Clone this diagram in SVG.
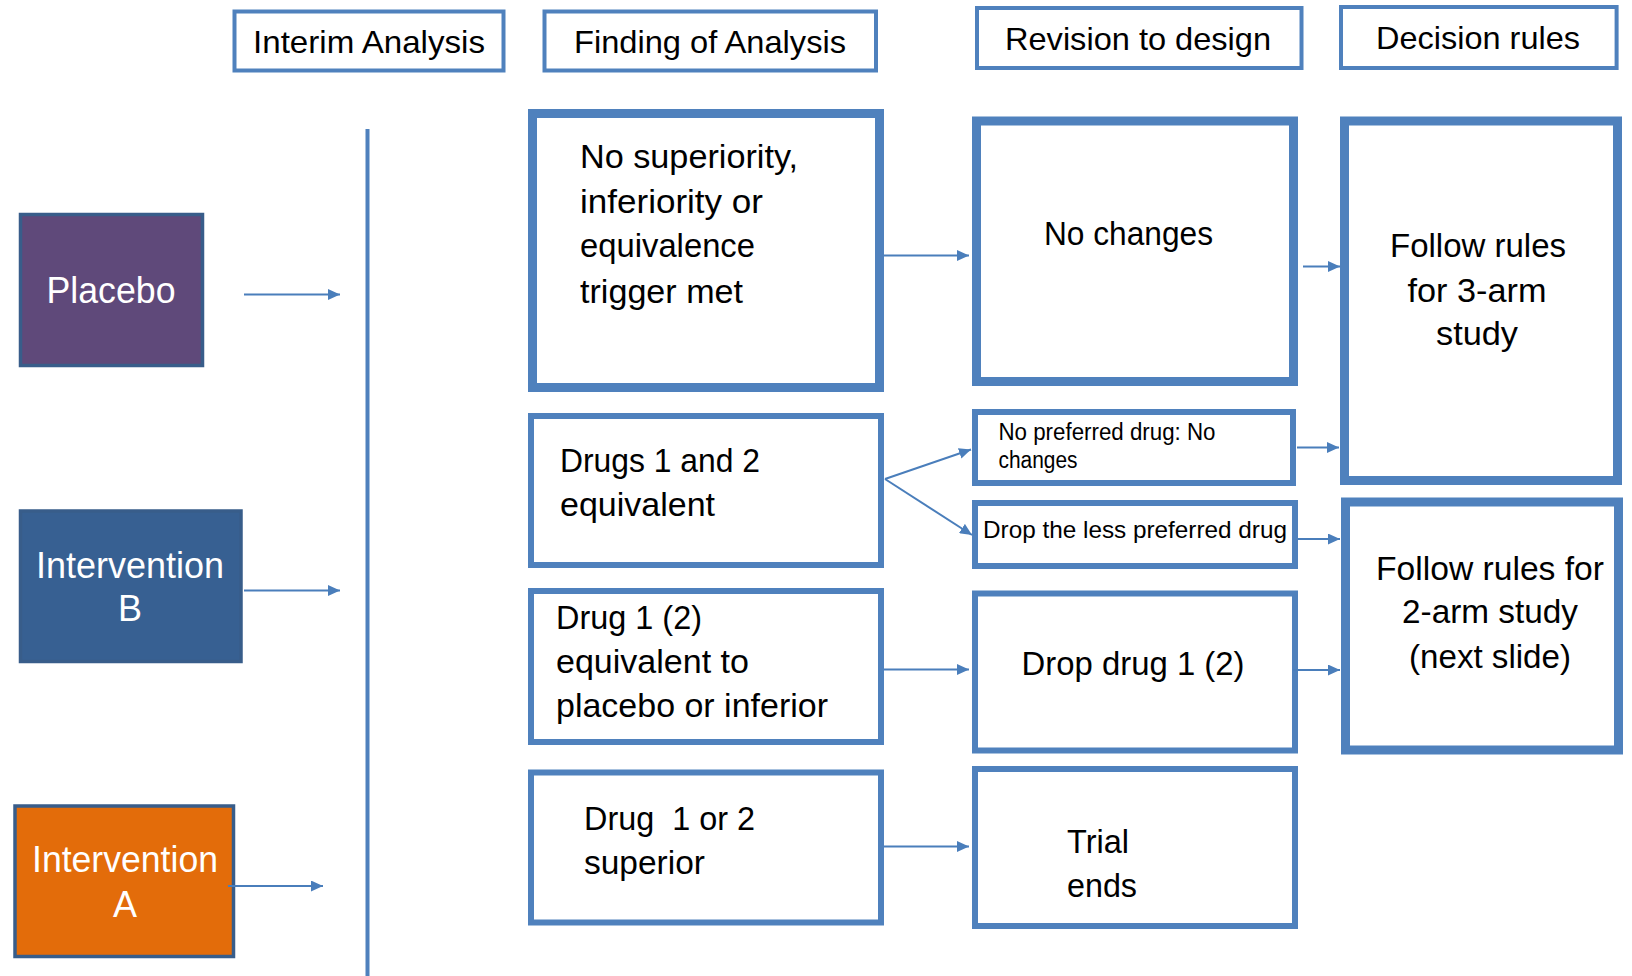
<svg xmlns="http://www.w3.org/2000/svg" width="1632" height="976" viewBox="0 0 1632 976">
<defs>
<style>
.hdr{fill:#fff;stroke:#4F81BD;stroke-width:4}
.thick{fill:#fff;stroke:#4F81BD;stroke-width:9}
.mid{fill:#fff;stroke:#4F81BD;stroke-width:6}
.arm{stroke:#385D8A;stroke-width:3.5}
.t{font-family:"Liberation Sans",Arial,sans-serif;fill:#000}
.w{font-family:"Liberation Sans",Arial,sans-serif;fill:#fff;font-size:36px;text-anchor:middle}
.c{text-anchor:middle}
.conn path{fill:none;stroke:#4A7EBB;stroke-width:2;marker-end:url(#ah)}
</style>
<marker id="ah" markerUnits="userSpaceOnUse" markerWidth="12" markerHeight="11" refX="12" refY="5.5" orient="auto">
<path d="M0,0 L12,5.5 L0,11 z" fill="#4A7EBB"/>
</marker>
</defs>
<rect width="1632" height="976" fill="#fff"/>

<g id="hdr-interim">
<rect class="hdr" x="234.5" y="11.5" width="269" height="59"/>
<text class="t c" x="369" y="52.5" font-size="32" textLength="232" lengthAdjust="spacingAndGlyphs">Interim Analysis</text>
</g>
<g id="hdr-finding">
<rect class="hdr" x="544.5" y="11.5" width="331.5" height="59"/>
<text class="t c" x="710" y="52.5" font-size="32" textLength="272" lengthAdjust="spacingAndGlyphs">Finding of Analysis</text>
</g>
<g id="hdr-revision">
<rect class="hdr" x="977" y="8" width="324.5" height="60"/>
<text class="t c" x="1138" y="49.5" font-size="32" textLength="266" lengthAdjust="spacingAndGlyphs">Revision to design</text>
</g>
<g id="hdr-decision">
<rect class="hdr" x="1341" y="7" width="275.6" height="61"/>
<text class="t c" x="1478" y="48.5" font-size="32" textLength="204" lengthAdjust="spacingAndGlyphs">Decision rules</text>
</g>

<g id="placebo">
<rect class="arm" x="20.5" y="214.5" width="182" height="151" fill="#5F497A"/>
<text class="w" x="111" y="303" textLength="129" lengthAdjust="spacingAndGlyphs">Placebo</text>
</g>
<g id="intervention-b">
<rect class="arm" x="20.5" y="511" width="220.5" height="150.5" fill="#376092"/>
<text class="w" x="130" y="578" textLength="188" lengthAdjust="spacingAndGlyphs">Intervention</text>
<text class="w" x="130" y="621">B</text>
</g>
<g id="intervention-a">
<rect class="arm" x="15" y="806" width="218.5" height="150.5" fill="#E36C0A"/>
<text class="w" x="125" y="872" textLength="186" lengthAdjust="spacingAndGlyphs">Intervention</text>
<text class="w" x="125" y="917">A</text>
</g>

<g id="timeline">
<line x1="367.5" y1="129" x2="367.5" y2="976" stroke="#4F81BD" stroke-width="4"/>
</g>

<g id="f1">
<rect class="thick" x="532.5" y="113.5" width="347" height="274"/>
<text class="t" font-size="33" x="580" y="167.5" textLength="218" lengthAdjust="spacingAndGlyphs">No superiority,</text>
<text class="t" font-size="33" x="580" y="212.5" textLength="183" lengthAdjust="spacingAndGlyphs">inferiority or</text>
<text class="t" font-size="33" x="580" y="257" textLength="175" lengthAdjust="spacingAndGlyphs">equivalence</text>
<text class="t" font-size="33" x="580" y="303" textLength="163" lengthAdjust="spacingAndGlyphs">trigger met</text>
</g>
<g id="f2">
<rect class="mid" x="531" y="416" width="350" height="149"/>
<text class="t" font-size="33" x="560" y="472" textLength="200" lengthAdjust="spacingAndGlyphs">Drugs 1 and 2</text>
<text class="t" font-size="33" x="560" y="516" textLength="155" lengthAdjust="spacingAndGlyphs">equivalent</text>
</g>
<g id="f3">
<rect class="mid" x="531" y="591" width="350" height="151"/>
<text class="t" font-size="33" x="556" y="628.5" textLength="146" lengthAdjust="spacingAndGlyphs">Drug 1 (2)</text>
<text class="t" font-size="33" x="556" y="673" textLength="193" lengthAdjust="spacingAndGlyphs">equivalent to</text>
<text class="t" font-size="33" x="556" y="717" textLength="272" lengthAdjust="spacingAndGlyphs">placebo or inferior</text>
</g>
<g id="f4">
<rect class="mid" x="531" y="772.5" width="350" height="150"/>
<text class="t" font-size="33" x="584" y="830" textLength="171" lengthAdjust="spacingAndGlyphs" xml:space="preserve">Drug  1 or 2</text>
<text class="t" font-size="33" x="584" y="874" textLength="121" lengthAdjust="spacingAndGlyphs">superior</text>
</g>

<g id="r1">
<rect class="thick" x="976.5" y="121" width="317" height="260.5"/>
<text class="t c" font-size="33" x="1128.5" y="245" textLength="169" lengthAdjust="spacingAndGlyphs">No changes</text>
</g>
<g id="r2">
<rect class="mid" x="975" y="412" width="318" height="71"/>
<text class="t" font-size="23" x="998.5" y="439.5" textLength="217" lengthAdjust="spacingAndGlyphs">No preferred drug: No</text>
<text class="t" font-size="23" x="998.5" y="468" textLength="79" lengthAdjust="spacingAndGlyphs">changes</text>
</g>
<g id="r3">
<rect class="mid" x="975" y="503" width="320" height="63"/>
<text class="t" font-size="24" x="983" y="538" textLength="304" lengthAdjust="spacingAndGlyphs">Drop the less preferred drug</text>
</g>
<g id="r4">
<rect class="mid" x="975" y="593.5" width="320" height="157"/>
<text class="t c" font-size="33" x="1133" y="675" textLength="223" lengthAdjust="spacingAndGlyphs">Drop drug 1 (2)</text>
</g>
<g id="r5">
<rect class="mid" x="975" y="769" width="320" height="157"/>
<text class="t" font-size="33" x="1067" y="853" textLength="62" lengthAdjust="spacingAndGlyphs">Trial</text>
<text class="t" font-size="33" x="1067" y="897" textLength="70" lengthAdjust="spacingAndGlyphs">ends</text>
</g>

<g id="d1">
<rect class="thick" x="1344.5" y="121" width="273" height="359.5"/>
<text class="t c" font-size="33" x="1478" y="256.5" textLength="176" lengthAdjust="spacingAndGlyphs">Follow rules</text>
<text class="t c" font-size="33" x="1477" y="301.5" textLength="139" lengthAdjust="spacingAndGlyphs">for 3-arm</text>
<text class="t c" font-size="33" x="1477" y="345" textLength="82" lengthAdjust="spacingAndGlyphs">study</text>
</g>
<g id="d2">
<rect class="thick" x="1345.5" y="502" width="273" height="248"/>
<text class="t c" font-size="33" x="1490" y="580" textLength="228" lengthAdjust="spacingAndGlyphs">Follow rules for</text>
<text class="t c" font-size="33" x="1490" y="622.5" textLength="176" lengthAdjust="spacingAndGlyphs">2-arm study</text>
<text class="t c" font-size="33" x="1490" y="667.5" textLength="162" lengthAdjust="spacingAndGlyphs">(next slide)</text>
</g>

<g id="connectors" class="conn">
<path d="M244 294.5 H340"/>
<path d="M244 590.5 H340"/>
<path d="M228 886 H323"/>
<path d="M884 255.5 H969"/>
<path d="M1303 266.5 H1340"/>
<path d="M885 479 L971 449.5"/>
<path d="M885 479 L972 535"/>
<path d="M1297 447.5 H1339"/>
<path d="M1298 539 H1340"/>
<path d="M884 669.5 H969"/>
<path d="M1293 670 H1340"/>
<path d="M884 846.5 H969"/>
</g>
</svg>
